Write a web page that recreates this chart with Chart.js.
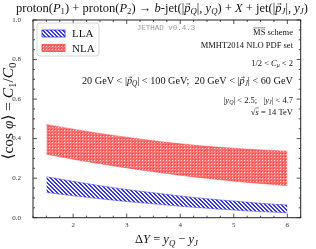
<!DOCTYPE html>
<html>
<head>
<meta charset="utf-8">
<script src="https://cdn.jsdelivr.net/npm/chart.js@4.4.0/dist/chart.umd.min.js"></script>
<style>
html, body { margin: 0; background: #fff; }
#wrap { width: 316px; height: 249px; }
</style>
</head>
<body>
<div id="wrap"><canvas id="c"></canvas></div>
<script>
// rapidity interval DeltaY
const deltaY = [1.5, 2, 2.5, 3, 3.5, 4, 4.5, 5, 5.5, 6];
// <cos phi> bands (lower / upper edge of scale uncertainty)
const llaLow = [0.128, 0.111, 0.096, 0.082, 0.070, 0.058, 0.048, 0.039, 0.031, 0.025];
const llaUp  = [0.207, 0.184, 0.162, 0.143, 0.126, 0.110, 0.096, 0.084, 0.073, 0.064];
const nlaLow = [0.321, 0.296, 0.273, 0.252, 0.233, 0.215, 0.199, 0.185, 0.173, 0.162];
const nlaUp  = [0.472, 0.448, 0.426, 0.407, 0.389, 0.374, 0.361, 0.351, 0.343, 0.337];
const xTicks = [2, 3, 4, 5, 6];
const yTicks = [0, 0.2, 0.4, 0.6, 0.8, 1.0];

const SERIF = '"Liberation Serif", "DejaVu Serif", serif';

function makePattern(size, paint) {
  const c = document.createElement('canvas');
  c.width = size; c.height = size;
  const g = c.getContext('2d');
  paint(g);
  return g.createPattern(c, 'repeat');
}

const bluePat = makePattern(4, g => {
  g.fillStyle = '#ffffff'; g.fillRect(0, 0, 4, 4);
  g.fillStyle = '#3333ff';
  for (let y = 0; y < 4; y++)
    for (let x = 0; x < 4; x++)
      if (((x - y) % 4 + 4) % 4 < 2) g.fillRect(x, y, 1, 1);
});

const redPat = makePattern(3, g => {
  g.fillStyle = '#ff7070'; g.fillRect(0, 0, 3, 3);
  g.fillStyle = '#ffdede'; g.fillRect(1, 1, 1, 1);
  g.fillStyle = '#ff4040'; g.fillRect(0, 0, 1, 1);
});

// draw text made of pieces; flags: i italic, s subscript, v vector arrow, o overline
function rich(ctx, parts, x, y, size, align, fitWidth) {
  const fontOf = (f, s) => (f.includes('i') ? 'italic ' : '') + (f.includes('s') ? s * 0.7 : s) + 'px ' + SERIF;
  const measure = s => parts.map(([t, f = '']) => { ctx.font = fontOf(f, s); return ctx.measureText(t).width; });
  let ws = measure(size);
  let w = ws.reduce((a, b) => a + b, 0);
  if (fitWidth) { size = size * fitWidth / w; ws = measure(size); w = fitWidth; }
  let cx = align === 'right' ? x - w : align === 'center' ? x - w / 2 : x;
  ctx.textAlign = 'left';
  ctx.textBaseline = 'alphabetic';
  parts.forEach(([t, f = ''], k) => {
    ctx.font = fontOf(f, size);
    const dy = f.includes('s') ? size * 0.22 : 0;
    ctx.fillText(t, cx, y + dy);
    ctx.lineWidth = 0.5;
    ctx.strokeStyle = ctx.fillStyle;
    if (f.includes('v')) {
      const ay = y - size * 0.6, x0 = cx + ws[k] * 0.3, x1 = cx + ws[k] * 0.95;
      ctx.beginPath();
      ctx.moveTo(x0, ay); ctx.lineTo(x1, ay);
      ctx.moveTo(x1 - 1.2, ay - 0.9); ctx.lineTo(x1, ay); ctx.lineTo(x1 - 1.2, ay + 0.9);
      ctx.stroke();
    }
    if (f.includes('o')) {
      const oy = y - size * 0.78;
      ctx.beginPath(); ctx.moveTo(cx, oy); ctx.lineTo(cx + ws[k], oy); ctx.stroke();
    }
    cx += ws[k];
  });
}

const decor = {
  id: 'decor',
  afterDraw(chart) {
    const ctx = chart.ctx;
    const a = chart.chartArea;
    const xs = chart.scales.x, ys = chart.scales.y;
    ctx.save();

    // minor + major ticks, inward on all four sides
    ctx.strokeStyle = '#222';
    ctx.lineWidth = 0.8;
    ctx.beginPath();
    for (let v = 1.25; v <= 6.2501; v += 0.25) {
      const px = xs.getPixelForValue(v);
      const len = Math.abs(v - Math.round(v)) < 1e-6 ? 4 : 2;
      ctx.moveTo(px, a.bottom); ctx.lineTo(px, a.bottom - len);
      ctx.moveTo(px, a.top); ctx.lineTo(px, a.top + len);
    }
    for (let v = 0; v <= 1.0001; v += 0.05) {
      const py = ys.getPixelForValue(v);
      const major = Math.abs(v * 5 - Math.round(v * 5)) < 1e-6;
      const len = major ? 4 : 2;
      ctx.moveTo(a.left, py); ctx.lineTo(a.left + len, py);
      ctx.moveTo(a.right, py); ctx.lineTo(a.right - len, py);
    }
    ctx.stroke();
    ctx.lineWidth = 1;
    ctx.strokeRect(a.left, a.top, a.right - a.left, a.bottom - a.top);

    // legend
    ctx.fillStyle = 'rgba(255,255,255,0.85)';
    ctx.strokeStyle = '#cccccc';
    ctx.lineWidth = 0.8;
    ctx.beginPath();
    ctx.roundRect(37, 23, 62, 33, 3);
    ctx.fill(); ctx.stroke();
    const sw = [[bluePat, '#3333ff', 'LLA', 30], [redPat, '#ff4040', 'NLA', 44.5]];
    sw.forEach(([pat, col, name, y]) => {
      ctx.fillStyle = pat;
      ctx.fillRect(42, y, 23, 7);
      ctx.strokeStyle = col; ctx.lineWidth = 0.8;
      ctx.strokeRect(42, y, 23, 7);
      ctx.fillStyle = '#111';
      rich(ctx, [[name]], 72, y + 7.3, 11, 'left');
    });

    // title
    ctx.fillStyle = '#111';
    rich(ctx, [['proton('], ['P', 'i'], ['1', 's'], [') + proton('], ['P', 'i'], ['2', 's'], [') \u2192 '],
      ['b', 'i'], ['-jet(|'], ['p', 'iv'], ['Q', 'is'], ['|, '], ['y', 'i'], ['Q', 'is'], [') + '], ['X', 'i'],
      [' + jet(|'], ['p', 'iv'], ['J', 'is'], ['|, '], ['y', 'i'], ['J', 'is'], [')']],
      162, 11.5, 10.5, 'center', 292);

    // annotations
    ctx.fillStyle = '#999';
    ctx.font = '7.5px "Liberation Mono", "DejaVu Sans Mono", monospace';
    ctx.textAlign = 'center';
    ctx.fillText('JETHAD v0.4.3', 166, 29.5);
    ctx.fillStyle = '#111';
    const R = 293, S = 8.5;
    rich(ctx, [['MS', 'o'], [' scheme']], R, 34.5, S, 'right');
    rich(ctx, [['MMHT2014 NLO PDF set']], R, 48, S, 'right');
    rich(ctx, [['1/2 < '], ['C', 'i'], ['\u03bc', 'is'], [' < 2']], R, 65.5, S, 'right');
    rich(ctx, [['20 GeV < |'], ['p', 'iv'], ['Q', 'is'], ['| < 100 GeV;  20 GeV < |'], ['p', 'iv'], ['J', 'is'], ['| < 60 GeV']],
      R, 83.5, S, 'right', 211);
    rich(ctx, [['|'], ['y', 'i'], ['Q', 'is'], ['| < 2.5;   |'], ['y', 'i'], ['J', 'is'], ['| < 4.7']], R, 102.5, S, 'right');
    rich(ctx, [['\u221a'], ['s', 'io'], [' = 14 TeV']], R, 114.5, S, 'right');

    // axis titles
    rich(ctx, [['\u0394'], ['Y', 'i'], [' = '], ['y', 'i'], ['Q', 'is'], [' \u2212 '], ['y', 'i'], ['J', 'is']],
      166.5, 243, 12.5, 'center');
    ctx.translate(8, 111);
    ctx.rotate(-Math.PI / 2);
    rich(ctx, [['\u27e8cos '], ['\u03c6', 'i'], ['\u27e9 = '], ['C', 'i'], ['1', 's'], ['/'], ['C', 'i'], ['0', 's']],
      0, 4.5, 12.5, 'center', 97);
    ctx.restore();
  }
};

const pts = arr => deltaY.map((x, i) => ({ x: x, y: arr[i] }));

new Chart(document.getElementById('c'), {
  type: 'line',
  data: {
    datasets: [
      { label: 'LLA low', data: pts(llaLow), borderColor: 'rgba(51,51,255,0.6)', borderWidth: 0.8, pointRadius: 0, fill: false, tension: 0.3 },
      { label: 'LLA', data: pts(llaUp), borderColor: 'rgba(51,51,255,0.6)', borderWidth: 0.8, pointRadius: 0, fill: '-1', backgroundColor: bluePat, tension: 0.3 },
      { label: 'NLA low', data: pts(nlaLow), borderColor: 'rgba(255,64,64,0.6)', borderWidth: 0.8, pointRadius: 0, fill: false, tension: 0.3 },
      { label: 'NLA', data: pts(nlaUp), borderColor: 'rgba(255,64,64,0.6)', borderWidth: 0.8, pointRadius: 0, fill: '-1', backgroundColor: redPat, tension: 0.3 }
    ]
  },
  options: {
    responsive: true,
    maintainAspectRatio: false,
    animation: false,
    layout: { padding: { left: 0, top: 20, right: 15.3, bottom: 0 } },
    plugins: { legend: { display: false }, tooltip: { enabled: false } },
    scales: {
      x: {
        type: 'linear', min: 1.25, max: 6.25,
        afterBuildTicks: s => { s.ticks = xTicks.map(v => ({ value: v })); },
        afterFit: s => { s.height = 31.3; },
        grid: { display: false, drawTicks: false },
        border: { display: false },
        ticks: { padding: 3, color: '#333', font: { family: SERIF, size: 7 }, callback: v => String(v) }
      },
      y: {
        min: 0, max: 1,
        afterBuildTicks: s => { s.ticks = yTicks.map(v => ({ value: v })); },
        afterFit: s => { s.width = 33; },
        grid: { display: false, drawTicks: false },
        border: { display: false },
        ticks: { padding: 12, color: '#333', font: { family: SERIF, size: 7 }, callback: v => v.toFixed(1) }
      }
    }
  },
  plugins: [decor]
});
</script>
</body>
</html>
